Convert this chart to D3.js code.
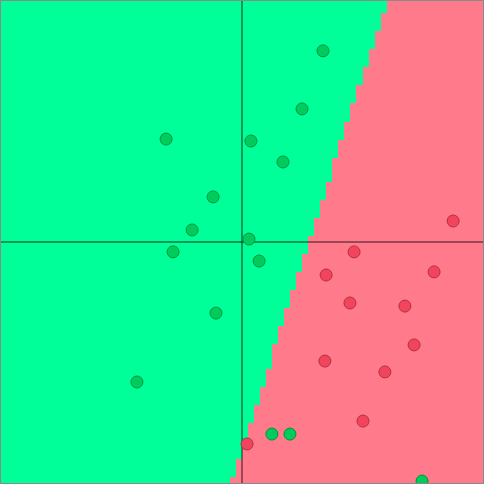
<!DOCTYPE html>
<html>
<head>
<meta charset="utf-8">
<title>Perceptron decision regions</title>
<script src="https://d3js.org/d3.v7.min.js"></script>
<style>
  body { margin: 0; background: #fff; }
  svg { display: block; }
</style>
</head>
<body>
<svg id="chart" width="486" height="484"></svg>
<script>
// points of class A (green), in data units [-1, 1]
var greenX = [0.336, 0.249, -0.315, 0.037, 0.170, -0.120, -0.207, 0.029, -0.286, 0.071, -0.108, -0.436, 0.124, 0.199, 0.747];
var greenY = [0.793, 0.552, 0.427, 0.419, 0.332, 0.187, 0.050, 0.012, -0.041, -0.079, -0.295, -0.581, -0.797, -0.797, -0.992];

// points of class B (red)
var redX = [0.876, 0.465, 0.349, 0.797, 0.448, 0.676, 0.714, 0.344, 0.593, 0.502, 0.021];
var redY = [0.087, -0.041, -0.137, -0.124, -0.253, -0.266, -0.427, -0.494, -0.539, -0.743, -0.838];

// learned weights [wx, wy, bias]: red when wx*x + wy*y + bias > 0
var weights = [1, -0.322, -0.278];

var cells = 80;

var svg = d3.select("#chart");
var x = d3.scaleLinear([-1, 1], [1, 483]);
var y = d3.scaleLinear([-1, 1], [483, 1]);
var step = 2 / cells;

var grid = [];
for (var i = 0; i < cells; i++) {
  for (var j = 0; j < cells; j++) {
    var cx = -1 + (i + 0.5) * step, cy = 1 - (j + 0.5) * step;
    grid.push({x0: -1 + i * step, y0: 1 - j * step,
      red: weights[0] * cx + weights[1] * cy + weights[2] > 0});
  }
}

svg.append("g").selectAll("rect").data(grid).join("rect")
  .attr("x", d => x(d.x0))
  .attr("y", d => y(d.y0))
  .attr("width", x(step) - x(0) + 0.5)
  .attr("height", y(0) - y(step) + 0.5)
  .attr("shape-rendering", "crispEdges")
  .attr("fill", d => d.red ? "#ff7b8b" : "#00ff98");

// axes through the origin
var ax = svg.append("g").attr("stroke", "#000").attr("stroke-opacity", 0.4).attr("stroke-width", 2);
ax.append("line").attr("x1", x(0)).attr("x2", x(0)).attr("y1", y(1)).attr("y2", y(-1));
ax.append("line").attr("x1", x(-1)).attr("x2", x(1)).attr("y1", y(0)).attr("y2", y(0));

var green = greenX.map((v, k) => ({x: v, y: greenY[k]}));
var red = redX.map((v, k) => ({x: v, y: redY[k]}));

svg.append("g").selectAll("circle").data(green).join("circle")
  .attr("cx", d => x(d.x)).attr("cy", d => y(d.y)).attr("r", 6)
  .attr("fill", "#00cc5c").attr("stroke", "#00913f").attr("stroke-width", 1);

svg.append("g").selectAll("circle").data(red).join("circle")
  .attr("cx", d => x(d.x)).attr("cy", d => y(d.y)).attr("r", 6)
  .attr("fill", "#f2445c").attr("stroke", "#b3303f").attr("stroke-width", 1);

// frame
svg.append("rect").attr("x", 0.5).attr("y", 0.5).attr("width", 483).attr("height", 483)
  .attr("fill", "none").attr("stroke", "#8a8a8a").attr("stroke-width", 1);
</script>
</body>
</html>
